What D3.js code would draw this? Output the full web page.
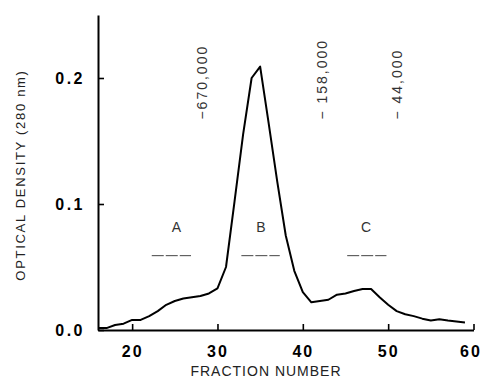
<!DOCTYPE html>
<html>
<head>
<meta charset="utf-8">
<script src="https://cdn.jsdelivr.net/npm/d3@7"></script>
<style>
  html, body { margin: 0; padding: 0; background: #fff; }
  svg { display: block; }
</style>
</head>
<body>
<svg id="chart" width="482" height="380"></svg>
<script>
// ---- data ----
const fractions = [16,17,18,19,20,21,22,23,24,25,26,27,28,29,30,31,32,33,34,35,36,37,38,39,40,41,42,43,44,45,46,47,48,49,50,51,52,53,54,55,56,57,58,59];
const opticalDensity = [0.0015,0.0015,0.004,0.005,0.008,0.008,0.011,0.015,0.020,0.023,0.025,0.026,0.027,0.029,0.033,0.050,0.102,0.155,0.200,0.209,0.164,0.118,0.075,0.047,0.030,0.022,0.023,0.024,0.028,0.029,0.031,0.0325,0.0325,0.026,0.020,0.015,0.0125,0.011,0.009,0.0075,0.0085,0.0075,0.0068,0.006];
const xTicks = [20,30,40,50,60];
const yTicks = [0.0,0.1,0.2];
const markerLabels = ["\u2212670,000", "\u2212 158,000", "\u2212 44,000"];
const markerFractions = [28.2, 42.3, 51.0];
const markerBaseOD = 0.167;
const poolLabels = ["A","B","C"];
const poolLabelFractions = [25.2, 35.1, 47.4];
const poolStart = [22.3, 32.8, 45.2];
const poolEnd = [26.9, 37.3, 49.8];
const poolLineOD = 0.059;
const poolLabelOD = 0.078;

// ---- layout ----
const svg = d3.select("#chart");
const x = d3.scaleLinear().domain([16, 60]).range([98, 473.5]);
const y = d3.scaleLinear().domain([0, 0.25]).range([330, 15]);
const font = "'Liberation Sans', Arial, sans-serif";

// axes
const xAxis = d3.axisBottom(x).tickValues(xTicks).tickSizeInner(-6).tickSizeOuter(0).tickPadding(16).tickFormat(d3.format("d"));
const gx = svg.append("g").attr("transform", "translate(0,330)").call(xAxis);
gx.select(".domain").attr("stroke", "#000").attr("stroke-width", 2);
gx.selectAll(".tick line").attr("stroke", "#000").attr("stroke-width", 1.6);
gx.selectAll(".tick text")
  .attr("font-family", font)
  .attr("font-size", 16).attr("font-weight", "bold")
  .attr("letter-spacing", "2px").attr("fill", "#000")
  .attr("dx", d => d === 60 ? -3 : 0);

const yAxis = d3.axisLeft(y).tickValues(yTicks).tickSizeInner(-6).tickSizeOuter(0).tickPadding(13).tickFormat(d3.format(".1f"));
const gy = svg.append("g").attr("transform", "translate(98,0)").call(yAxis);
gy.select(".domain").attr("stroke", "#000").attr("stroke-width", 2);
gy.selectAll(".tick line").attr("stroke", "#000").attr("stroke-width", 1.6);
gy.selectAll(".tick text")
  .attr("font-family", font)
  .attr("font-size", 16).attr("font-weight", "bold")
  .attr("letter-spacing", "2.5px").attr("fill", "#000");

// axis titles
svg.append("text")
  .attr("x", 266).attr("y", 376)
  .attr("text-anchor", "middle")
  .attr("font-family", font)
  .attr("font-size", 14).attr("letter-spacing", "1px").attr("fill", "#222")
  .text("FRACTION NUMBER");

svg.append("text")
  .attr("transform", "translate(25,175) rotate(-90)")
  .attr("text-anchor", "middle")
  .attr("font-family", font)
  .attr("font-size", 13).attr("letter-spacing", "1.7px").attr("fill", "#222")
  .text("OPTICAL DENSITY (280 nm)");

// curve
const line = d3.line()
  .x((d, i) => x(fractions[i]))
  .y(d => y(d))
  .curve(d3.curveLinear);
svg.append("path")
  .datum(opticalDensity)
  .attr("d", line)
  .attr("fill", "none")
  .attr("stroke", "#000")
  .attr("stroke-width", 2)
  .attr("stroke-linejoin", "round");

// molecular weight markers
markerLabels.forEach((lab, i) => {
  svg.append("text")
    .attr("transform", `translate(${x(markerFractions[i])},${y(markerBaseOD)}) rotate(-90)`)
    .attr("text-anchor", "start")
    .attr("dy", "0.35em")
    .attr("font-family", font)
    .attr("font-size", 14).attr("letter-spacing", "2px").attr("fill", "#333")
    .text(lab);
});

// pool labels and dashed ranges
poolLabels.forEach((lab, i) => {
  svg.append("text")
    .attr("x", x(poolLabelFractions[i])).attr("y", y(poolLabelOD))
    .attr("text-anchor", "middle")
    .attr("font-family", font)
    .attr("font-size", 14).attr("fill", "#333")
    .text(lab);
  svg.append("line")
    .attr("x1", x(poolStart[i])).attr("x2", x(poolEnd[i]))
    .attr("y1", y(poolLineOD)).attr("y2", y(poolLineOD))
    .attr("stroke", "#444").attr("stroke-width", 1)
    .attr("stroke-dasharray", "12,2");
});
</script>
</body>
</html>
